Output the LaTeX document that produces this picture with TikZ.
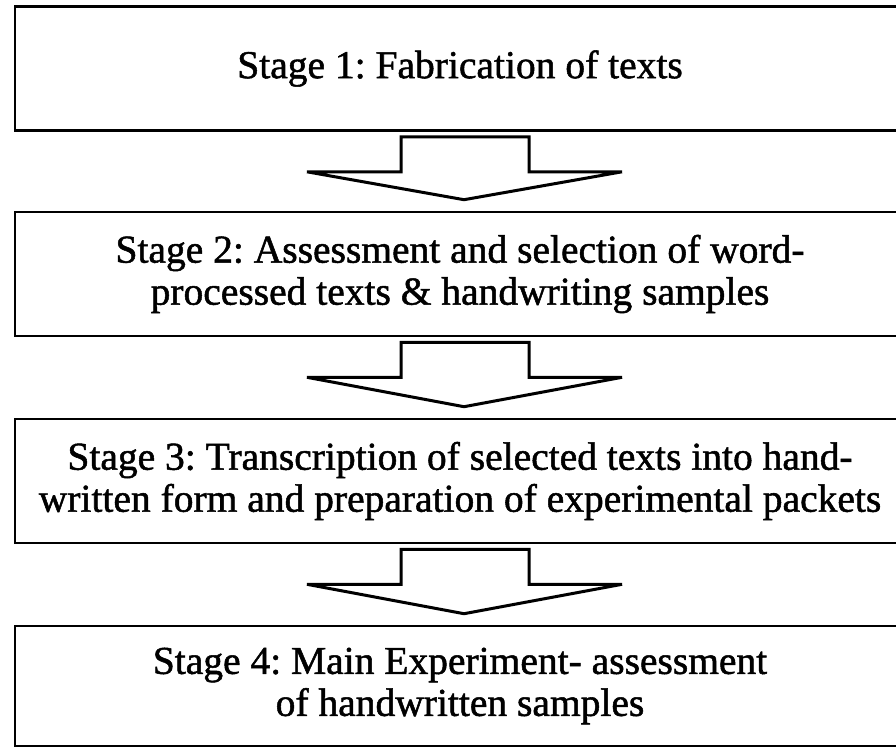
\documentclass[tikz,border=0pt]{standalone}
\usepackage{fontspec}
\setmainfont{Liberation Serif}[FakeBold=1.3]
\usetikzlibrary{calc}
\frenchspacing

\tikzset{
    stagebox/.style={draw, line width=2.6pt, minimum width=890pt, minimum height=124pt,
        align=center, inner sep=0pt},
    blockarrow/.style={draw, line width=3pt, line join=miter, fill=white}
}

\begin{document}
\begin{tikzpicture}[x=1pt, y=-1pt, font=\fontsize{39.5}{42}\selectfont]
\useasboundingbox (0,0) rectangle (896,750);
\clip (0,0) rectangle (896,750);

\node[stagebox] (stage1) at (460,68.5) {Stage 1: Fabrication of texts};
\node[stagebox] (stage2) at (460,274) {Stage 2: Assessment and selection of word-\\processed texts \& handwriting samples};
\node[stagebox] (stage3) at (460,481) {Stage 3: Transcription of selected texts into hand-\\written form and preparation of experimental packets};
\node[stagebox, minimum height=120pt] (stage4) at (460,686) {Stage 4: Main Experiment- assessment\\of handwritten samples};

% hollow block arrows between stages
\foreach \a/\b in {stage1/stage2, stage2/stage3, stage3/stage4}{
    \coordinate (top) at ($(\a.south)+(5,5)$);
    \coordinate (tip) at ($(\b.north)+(4,-11)$);
    \draw[blockarrow] ($(top)+(-64,0)$) -- ($(top)+(64,0)$) -- ($(top)+(64,35)$)
        -- ($(top)+(157,35)$) -- (tip) -- ($(top)+(-158,35)$) -- ($(top)+(-64,35)$) -- cycle;
}
\end{tikzpicture}
\end{document}
